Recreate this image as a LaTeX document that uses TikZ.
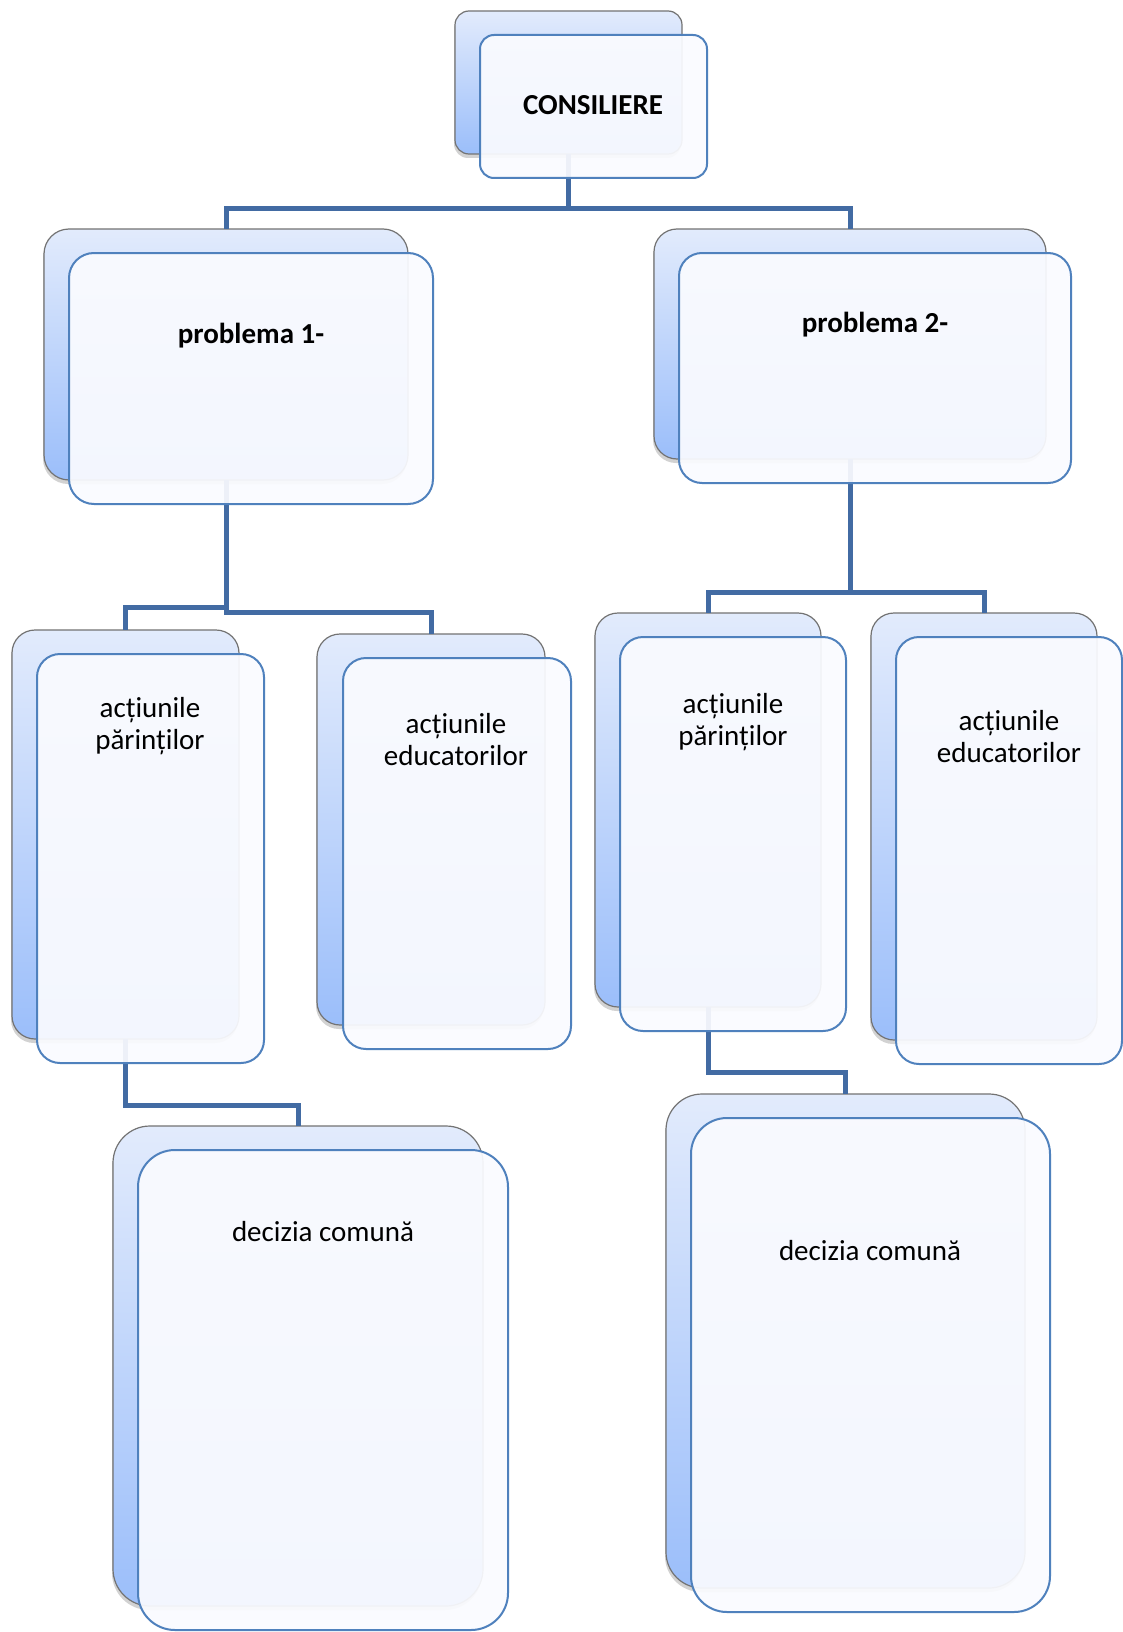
\documentclass[tikz,border=0pt]{standalone}
\usepackage{fontspec}
\setmainfont{Carlito}
\usetikzlibrary{shadows}
\definecolor{backtop}{RGB}{226,235,252}
\definecolor{backbot}{RGB}{155,190,250}
\definecolor{backedge}{RGB}{115,115,115}
\definecolor{frontedge}{RGB}{79,129,189}
\definecolor{frontfill}{RGB}{250,251,255}
\definecolor{connblue}{RGB}{66,107,163}
\tikzset{
  backbox/.style={rectangle, draw=backedge, line width=1.2pt, top color=backtop, bottom color=backbot,
    inner sep=0pt, outer sep=0pt, anchor=north west,
    drop shadow={shadow xshift=-1pt, shadow yshift=-4pt, opacity=0.35}},
  frontbox/.style={rectangle, draw=frontedge, line width=2pt, fill=frontfill, fill opacity=0.93,
    inner sep=0pt, outer sep=0pt, anchor=north west},
  conn/.style={draw=connblue, line width=5pt},
  lbl/.style={anchor=base, font=\fontsize{29}{32}\selectfont, align=center, text=black, inner sep=0pt},
  blbl/.style={lbl, font=\fontsize{29}{32}\selectfont\bfseries},
}
\begin{document}
\begin{tikzpicture}[x=1pt,y=-1pt]
\fill[white] (0,0) rectangle (1123,1632);
\useasboundingbox (0,0) rectangle (1123,1632);
% back boxes
\node[backbox, rounded corners=14pt, minimum width=227pt, minimum height=143pt] (consB) at (455,11) {};
\node[backbox, rounded corners=25pt, minimum width=364pt, minimum height=251pt] (p1B) at (44,229) {};
\node[backbox, rounded corners=23pt, minimum width=392pt, minimum height=230pt] (p2B) at (654,229) {};
\node[backbox, rounded corners=23pt, minimum width=227pt, minimum height=409pt] (a1B) at (12,630) {};
\node[backbox, rounded corners=23pt, minimum width=228pt, minimum height=391pt] (e1B) at (317,634) {};
\node[backbox, rounded corners=23pt, minimum width=226pt, minimum height=394pt] (a2B) at (595,613) {};
\node[backbox, rounded corners=23pt, minimum width=226pt, minimum height=427pt] (e2B) at (871,613) {};
\node[backbox, rounded corners=37pt, minimum width=370pt, minimum height=480pt] (d1B) at (113,1126) {};
\node[backbox, rounded corners=36pt, minimum width=359pt, minimum height=494pt] (d2B) at (666,1094) {};
% connectors
\draw[conn] (consB.south) -- (consB.south |- 0,208) -| (p1B.north);
\draw[conn] (consB.south |- 0,208) -| (p2B.north);
\draw[conn] (p1B.south) -- (p1B.south |- 0,612) -| (e1B.north);
\draw[conn] (p1B.south |- 0,607) -| (a1B.north);
\draw[conn] (p2B.south) -- (p2B.south |- 0,592) -| (a2B.north);
\draw[conn] (p2B.south |- 0,592) -| (e2B.north);
\draw[conn] (a1B.south) -- (a1B.south |- 0,1105) -| (d1B.north);
\draw[conn] (a2B.south) -- (a2B.south |- 0,1072) -| (d2B.north);
% front boxes
\node[frontbox, rounded corners=14pt, minimum width=227pt, minimum height=143pt] (consF) at (480,35) {};
\node[frontbox, rounded corners=25pt, minimum width=364pt, minimum height=251pt] (p1F) at (69,253) {};
\node[frontbox, rounded corners=23pt, minimum width=392pt, minimum height=230pt] (p2F) at (679,253) {};
\node[frontbox, rounded corners=23pt, minimum width=227pt, minimum height=409pt] (a1F) at (37,654) {};
\node[frontbox, rounded corners=23pt, minimum width=228pt, minimum height=391pt] (e1F) at (343,658) {};
\node[frontbox, rounded corners=23pt, minimum width=226pt, minimum height=394pt] (a2F) at (620,637) {};
\node[frontbox, rounded corners=23pt, minimum width=226pt, minimum height=427pt] (e2F) at (896,637) {};
\node[frontbox, rounded corners=37pt, minimum width=370pt, minimum height=480pt] (d1F) at (138,1150) {};
\node[frontbox, rounded corners=36pt, minimum width=359pt, minimum height=494pt] (d2F) at (691,1118) {};
% labels (multi-line: base anchor is on the last line)
\node[blbl] (t0) at (593,115) {CONSILIERE};
\node[blbl] (t1) at (251,343) {problema 1-};
\node[blbl] (t2) at (875,332) {problema 2-};
\node[lbl] (t3) at (150,749) {acțiunile\\părinților};
\node[lbl] (t4) at (456,765) {acțiunile\\educatorilor};
\node[lbl] (t5) at (733,745) {acțiunile\\părinților};
\node[lbl] (t6) at (1009,762) {acțiunile\\educatorilor};
\node[lbl] (t7) at (323,1241) {decizia comună};
\node[lbl] (t8) at (870,1260) {decizia comună};
\end{tikzpicture}
\end{document}
